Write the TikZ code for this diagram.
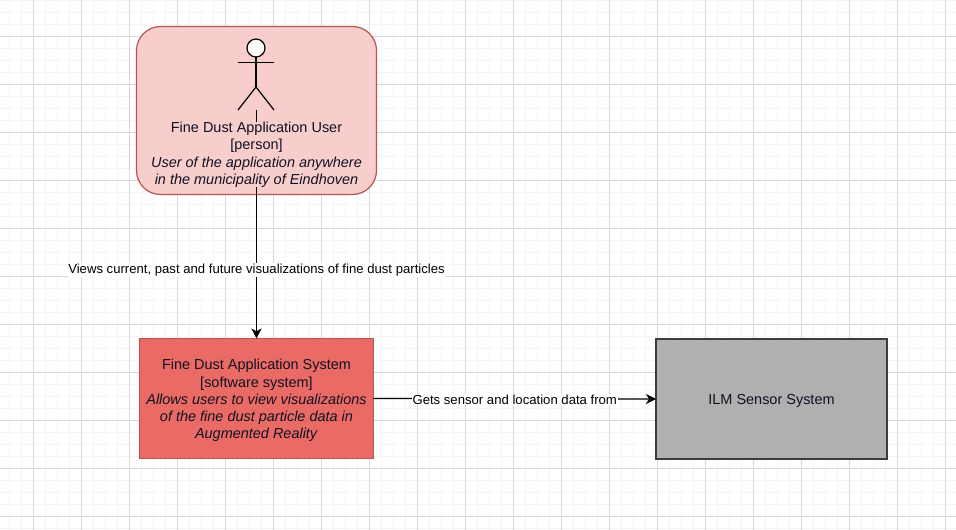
\documentclass[tikz,border=0pt]{standalone}
\usepackage{fontspec}
\setmainfont{Liberation Sans}
\usetikzlibrary{arrows.meta}
\definecolor{usrfill}{HTML}{F8CECC}
\definecolor{usrline}{HTML}{B85450}
\definecolor{appfill}{HTML}{EA6B66}
\definecolor{ilmfill}{HTML}{B0B0B0}
\definecolor{ilmline}{HTML}{3C3C3C}
\definecolor{txtcol}{HTML}{111122}
\newcommand{\boxstrut}{\rule{0pt}{11pt}}
\tikzset{
  minorgrid/.style={draw=black!4,line width=0.75pt},
  majorgrid/.style={draw=black!15,line width=0.75pt},
  boxtext/.style={font=\fontsize{10.85}{12.95}\selectfont,align=center,text=txtcol,inner sep=0,outer sep=0},
  linklabel/.style={font=\fontsize{9.85}{12}\selectfont,fill=white,inner sep=0.5pt},
  flow/.style={-{Stealth[length=7.5pt,width=7.5pt,inset=2.2pt]},line width=0.9pt},
  actorline/.style={line width=0.9pt}
}
\begin{document}
\begin{tikzpicture}[x=0.75pt,y=-0.75pt]
\useasboundingbox (0,0) rectangle (956,530);
\fill[white] (0,0) rectangle (956,530);
% background grid
\foreach \gx in {9.5,21.5,...,956} {\draw[minorgrid] (\gx,0) -- (\gx,530);}
\foreach \gy in {0.5,12.5,...,530} {\draw[minorgrid] (0,\gy) -- (956,\gy);}
\foreach \gx in {33.5,81.5,...,956} {\draw[majorgrid] (\gx,0) -- (\gx,530);}
\foreach \gy in {36.5,84.5,...,530} {\draw[majorgrid] (0,\gy) -- (956,\gy);}
% boxes
\draw[draw=usrline,fill=usrfill,line width=0.9pt,rounded corners=18pt] (136.5,26.5) rectangle (376.5,194.5);
\node[draw=usrline,fill=appfill,line width=0.9pt,minimum width=175.5pt,minimum height=90pt,anchor=north west,boxtext] (appsys) at (139.5,338.5) {\boxstrut Fine Dust Application System\\{}[software system]\\\textit{Allows users to view visualizations}\\\textit{of the fine dust particle data in}\\\textit{Augmented Reality}};
\node[draw=ilmline,fill=ilmfill,line width=1.3pt,minimum width=173.25pt,minimum height=90pt,anchor=north west,boxtext] (ilmsys) at (656,339) {\boxstrut ILM Sensor System};
% actor
\draw[actorline,fill=white] (256,48) circle (9);
\draw[actorline] (256,57) -- (256,87);
\draw[actorline] (238,62.5) -- (274,62.5);
\draw[actorline] (238,110) -- (256,87) -- (274,110);
\coordinate (actorfoot) at (256.5,110);
% links
\draw[flow] (actorfoot) -- (appsys.north) node[pos=0.70,linklabel] (viewlabel) {Views current, past and future visualizations of fine dust particles};
\draw[flow] (appsys.east) -- (ilmsys.west) node[midway,linklabel,yshift=-0.6pt] (datalabel) {Gets sensor and location data from};
% text on top of the link
\node[boxtext,fill=usrfill,anchor=north] (usrtext) at (256.5,122) {Fine Dust Application User\\{}[person]\\\textit{User of the application anywhere}\\\textit{in the municipality of Eindhoven}};
\end{tikzpicture}
\end{document}
